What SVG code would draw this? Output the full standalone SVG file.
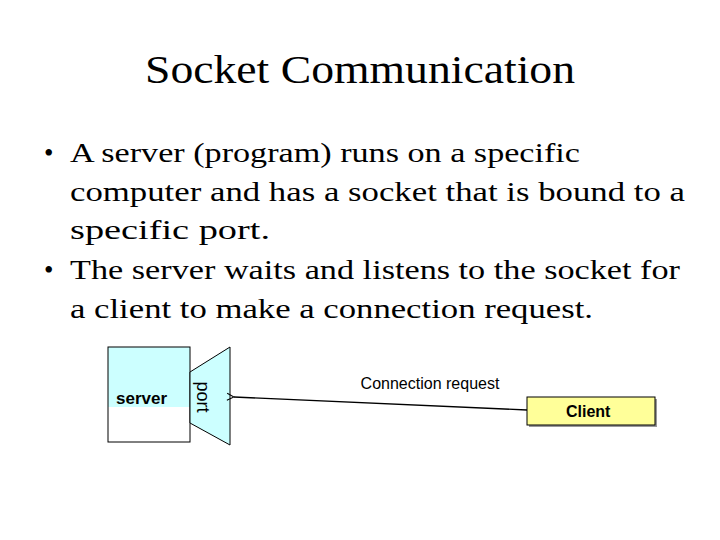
<svg xmlns="http://www.w3.org/2000/svg" width="720" height="540" viewBox="0 0 720 540">
<defs><marker id="ah" markerWidth="10" markerHeight="10" refX="1" refY="5" orient="auto" markerUnits="userSpaceOnUse"><path d="M8,1.5 L1,5 L8,8.5" fill="none" stroke="#000" stroke-width="1"/></marker></defs>
<style>.t{font-family:"Liberation Serif",serif;fill:#000}.b{font-size:27px}.s{font-family:"Liberation Sans",Arial,sans-serif}</style>
<rect width="720" height="540" fill="#fff"/>
<text class="t" x="360" y="83" font-size="40" text-anchor="middle" textLength="430" lengthAdjust="spacingAndGlyphs">Socket Communication</text>
<g class="t b">
<text x="44" y="162">•</text>
<text x="70" y="162" textLength="510" lengthAdjust="spacingAndGlyphs">A server (program) runs on a specific</text>
<text x="70" y="201" textLength="615" lengthAdjust="spacingAndGlyphs">computer and has a socket that is bound to a</text>
<text x="70" y="239" textLength="200" lengthAdjust="spacingAndGlyphs">specific port.</text>
<text x="44" y="279">•</text>
<text x="70" y="279" textLength="610" lengthAdjust="spacingAndGlyphs">The server waits and listens to the socket for</text>
<text x="70" y="318" textLength="523" lengthAdjust="spacingAndGlyphs">a client to make a connection  request.</text>
</g>
<g id="server">
<rect x="108" y="347" width="82" height="60" fill="#ccffff"/>
<rect x="108" y="347" width="82" height="95" fill="none" stroke="#000" stroke-width="1"/>
<text class="s" x="116" y="404" font-size="17" font-weight="bold">server</text>
</g>
<g id="port">
<polygon points="190,372 230,347 230,445 190,423" fill="#ccffff" stroke="#000" stroke-width="1"/>
<text class="s" x="0" y="0" font-size="18" transform="translate(197,397) rotate(90)" text-anchor="middle">port</text>
</g>
<g id="client">
<rect x="529" y="399" width="128" height="28" fill="#999"/>
<rect x="527" y="397" width="128" height="28" fill="#ffff99" stroke="#000" stroke-width="1"/>
<text class="s" x="566" y="417" font-size="16" font-weight="bold">Client</text>
</g>
<g id="connectors">
<line x1="527" y1="410" x2="234" y2="397" stroke="#000" stroke-width="1.3" marker-end="url(#ah)"/>
<text class="s" x="430" y="389" font-size="16" text-anchor="middle">Connection request</text>
</g>
</svg>
